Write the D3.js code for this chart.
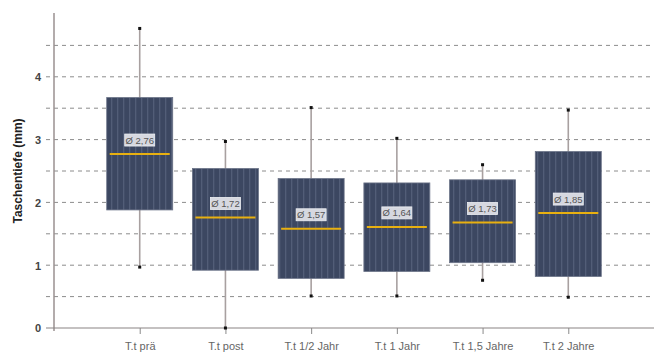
<!DOCTYPE html>
<html><head><meta charset="utf-8">
<script src="https://cdn.jsdelivr.net/npm/d3@7/dist/d3.min.js"></script>
<style>
html,body{margin:0;padding:0;background:#fff;}
svg{display:block;}
</style></head>
<body>
<svg id="chart" width="654" height="353"></svg>
<script>
const categories = ["T.t prä", "T.t post", "T.t 1/2 Jahr", "T.t 1 Jahr", "T.t 1,5 Jahre", "T.t 2 Jahre"];
const whiskerLow  = [0.97, 0.00, 0.51, 0.51, 0.76, 0.49];
const q1Values    = [1.88, 0.92, 0.79, 0.90, 1.04, 0.82];
const medianVals  = [2.77, 1.76, 1.58, 1.61, 1.68, 1.83];
const q3Values    = [3.67, 2.54, 2.38, 2.31, 2.36, 2.81];
const whiskerHigh = [4.77, 2.97, 3.51, 3.02, 2.60, 3.47];
const meanLabels  = ["Ø 2,76", "Ø 1,72", "Ø 1,57", "Ø 1,64", "Ø 1,73", "Ø 1,85"];
const yTickLabels = [0, 1, 2, 3, 4];
const gridValues  = [0.5, 1, 1.5, 2, 2.5, 3, 3.5, 4, 4.5];
const yLabel = "Taschentiefe (mm)";

const svg = d3.select("#chart");
const font = "'Liberation Sans Narrow','Arial Narrow','Liberation Sans',sans-serif";

const x = d3.scalePoint().domain(categories).range([54, 654]).padding(1);
const y = d3.scaleLinear().domain([0, 5]).range([328, 14]);
const boxW = 66;

// pattern for striped boxes
const defs = svg.append("defs");
const pat = defs.append("pattern").attr("id","stripes").attr("patternUnits","userSpaceOnUse")
  .attr("width",6).attr("height",6);
pat.append("rect").attr("width",6).attr("height",6).attr("fill","#3c4761");
pat.append("rect").attr("x",3).attr("width",1.3).attr("height",6).attr("fill","#525d77");

// gridlines
svg.append("g").selectAll("line").data(gridValues).join("line")
  .attr("x1",46).attr("x2",654)
  .attr("y1",d=>y(d)).attr("y2",d=>y(d))
  .attr("stroke","#8c8c8c").attr("stroke-width",1).attr("stroke-dasharray","4,4");

// y axis
const yAxis = d3.axisLeft(y).tickValues(yTickLabels).tickSize(0).tickFormat(d3.format("d"));
const ya = svg.append("g").attr("transform","translate(54,0)").call(yAxis);
ya.select(".domain").remove();
ya.selectAll("text").attr("x",-13).attr("dy","0.35em")
  .attr("font-family",font).attr("font-size",11).attr("font-weight","bold").attr("fill","#444");
svg.append("line").attr("x1",54).attr("x2",54).attr("y1",13).attr("y2",331)
  .attr("stroke","#9a9090").attr("stroke-width",1.5);

// x axis
const xAxis = d3.axisBottom(x).tickSize(6).tickPadding(8);
const xa = svg.append("g").attr("transform","translate(0,328)").call(xAxis);
xa.select(".domain").remove();
xa.selectAll("line").attr("stroke","#8a8a8a");
xa.selectAll("text").attr("font-family",font).attr("font-size",11).attr("fill","#666");
svg.append("line").attr("x1",46).attr("x2",654).attr("y1",328).attr("y2",328)
  .attr("stroke","#8a8484").attr("stroke-width",1.2);

// y label
svg.append("text").attr("transform","translate(22,171) rotate(-90)")
  .attr("text-anchor","middle").attr("font-family",font).attr("font-size",12)
  .attr("font-weight","bold").attr("fill","#222").text(yLabel);

const data = categories.map((c,i)=>({c, lo:whiskerLow[i], q1:q1Values[i], med:medianVals[i], q3:q3Values[i], hi:whiskerHigh[i], lab:meanLabels[i]}));

const g = svg.append("g").selectAll("g").data(data).join("g");
// whiskers
g.append("line").attr("x1",d=>x(d.c)).attr("x2",d=>x(d.c))
  .attr("y1",d=>y(d.hi)).attr("y2",d=>y(d.lo))
  .attr("stroke","#a8a0a0").attr("stroke-width",1.6);
// whisker end dots
g.append("rect").attr("x",d=>x(d.c)-1.5).attr("y",d=>y(d.hi)-1.5).attr("width",3).attr("height",3).attr("fill","#111");
g.append("rect").attr("x",d=>x(d.c)-1.5).attr("y",d=>y(d.lo)-1.5).attr("width",3).attr("height",3).attr("fill","#111");
// boxes
g.append("rect").attr("x",d=>x(d.c)-boxW/2).attr("width",boxW)
  .attr("y",d=>y(d.q3)).attr("height",d=>y(d.q1)-y(d.q3))
  .attr("fill","url(#stripes)").attr("stroke","#6c7488").attr("stroke-width",0.8);
// median
g.append("line").attr("x1",d=>x(d.c)-boxW/2+3).attr("x2",d=>x(d.c)+boxW/2-3)
  .attr("y1",d=>y(d.med)).attr("y2",d=>y(d.med))
  .attr("stroke","#e8b010").attr("stroke-width",2);
// labels
g.append("rect").attr("x",d=>x(d.c)-15).attr("y",d=>y(d.med)-20).attr("width",30).attr("height",12)
  .attr("fill","#d6d8e0").attr("stroke","#eef0f4").attr("stroke-width",0.8);
g.append("text").attr("x",d=>x(d.c)).attr("y",d=>y(d.med)-10.5)
  .attr("text-anchor","middle").attr("font-family",font).attr("font-size",9.5)
  .attr("fill","#555").text(d=>d.lab);
</script>
</body></html>
